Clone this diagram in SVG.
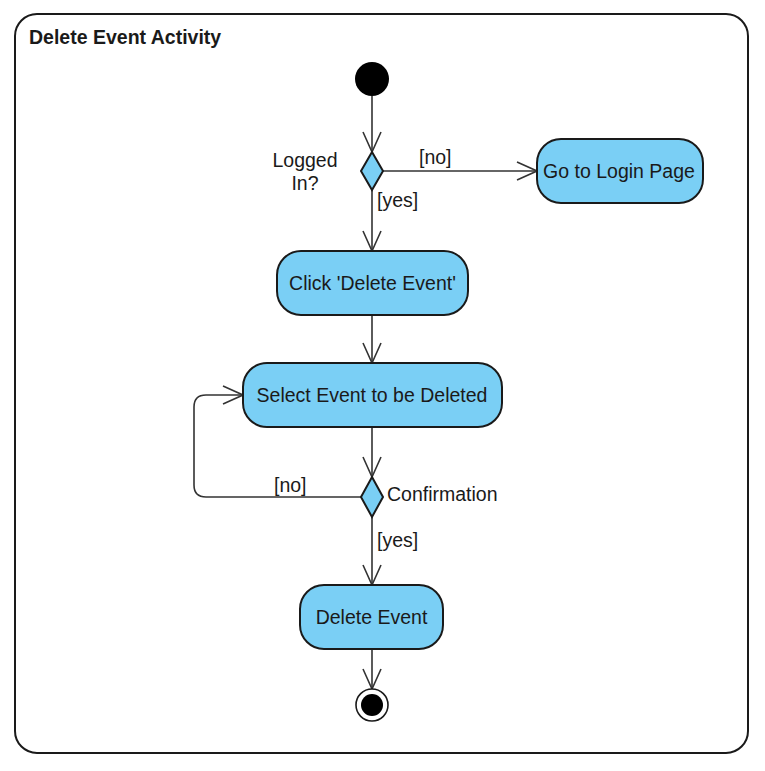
<svg xmlns="http://www.w3.org/2000/svg" width="765" height="771" viewBox="0 0 765 771">
<defs>
<style>
.t{font-family:"Liberation Sans",Arial,sans-serif;font-size:19.5px;fill:#1a1a1a}
.c{text-anchor:middle}
.act{fill:#7acff5;stroke:#1a1a1a;stroke-width:2}
.ln{fill:none;stroke:#333;stroke-width:1.6}
</style>
<marker id="ah" viewBox="0 0 22 20" refX="21" refY="10" markerWidth="22" markerHeight="20" markerUnits="userSpaceOnUse" orient="auto">
<path d="M1,1 L21,10 L1,19" fill="none" stroke="#333" stroke-width="1.6"/>
</marker>
</defs>
<rect width="765" height="771" fill="#fff"/>
<g id="frame">
<rect x="15" y="14" width="733" height="739" rx="22" fill="#fff" stroke="#1a1a1a" stroke-width="2"/>
<text x="29" y="44" class="t" style="font-weight:bold;font-size:19.5px">Delete Event Activity</text>
</g>
<g id="connectors">
<path class="ln" d="M372,96 L372,152" marker-end="url(#ah)"/>
<path class="ln" d="M383,171 L537,171" marker-end="url(#ah)"/>
<path class="ln" d="M372,190 L372,251" marker-end="url(#ah)"/>
<path class="ln" d="M372,315 L372,363" marker-end="url(#ah)"/>
<path class="ln" d="M372,427 L372,477" marker-end="url(#ah)"/>
<path class="ln" d="M361,497 L206,497 Q194,497 194,485 L194,407 Q194,395 206,395 L243,395" marker-end="url(#ah)"/>
<path class="ln" d="M372,517 L372,585" marker-end="url(#ah)"/>
<path class="ln" d="M372,649 L372,689" marker-end="url(#ah)"/>
<text x="419" y="164" class="t">[no]</text>
<text x="377" y="207" class="t">[yes]</text>
<text x="274" y="492" class="t">[no]</text>
<text x="377" y="547" class="t">[yes]</text>
</g>
<g id="start">
<circle cx="372" cy="79" r="17" fill="#000"/>
</g>
<g id="logged-in">
<polygon points="372,152 383,171 372,190 361,171" class="act"/>
<text x="305" y="167" class="t c">Logged</text>
<text x="305" y="190" class="t c">In?</text>
</g>
<g id="login-page">
<rect x="537" y="139" width="166" height="64" rx="24" class="act"/>
<text x="619" y="177.5" class="t c">Go to Login Page</text>
</g>
<g id="click-delete">
<rect x="277" y="251" width="191" height="64" rx="24" class="act"/>
<text x="372.5" y="289.5" class="t c">Click 'Delete Event'</text>
</g>
<g id="select-event">
<rect x="243" y="363" width="259" height="64" rx="24" class="act"/>
<text x="372" y="401.5" class="t c">Select Event to be Deleted</text>
</g>
<g id="confirmation">
<polygon points="372,477 383,497 372,517 361,497" class="act"/>
<text x="387" y="501" class="t">Confirmation</text>
</g>
<g id="delete-event">
<rect x="300" y="585" width="143" height="64" rx="24" class="act"/>
<text x="371.5" y="623.5" class="t c">Delete Event</text>
</g>
<g id="end">
<circle cx="372" cy="705" r="16" fill="#fff" stroke="#1a1a1a" stroke-width="1.6"/>
<circle cx="372" cy="705" r="11" fill="#000"/>
</g>
</svg>
